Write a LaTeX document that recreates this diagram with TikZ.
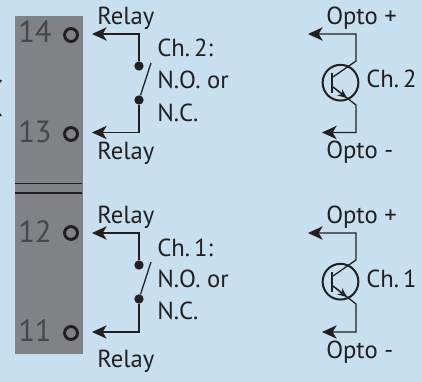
\documentclass[tikz,border=0pt]{standalone}
\usepackage{fontspec}
\setmainfont{PT Sans}
\definecolor{panelblue}{HTML}{C7DFEF}
\definecolor{railgray}{HTML}{808285}
\definecolor{inkdark}{HTML}{231F20}
\definecolor{numgray}{HTML}{47474A}
\usetikzlibrary{arrows.meta, positioning}
\tikzset{
  wire/.style={draw=inkdark, line width=0.95pt},
  tipwire/.style={wire, -{Stealth[length=11pt, width=10pt, inset=3pt]}},
  label/.style={font=\fontsize{18.5}{18.5}\selectfont, text=inkdark, anchor=base west, inner sep=0pt},
  pinno/.style={font=\fontsize{23}{23}\selectfont, text=numgray, anchor=base west, inner sep=0pt},
  pinhole/.style={circle, draw=inkdark, line width=2.2pt, minimum size=9.7pt, inner sep=0pt},
  contact/.style={circle, fill=inkdark, minimum size=7pt, inner sep=0pt},
  trancircle/.style={circle, draw=inkdark, line width=1.5pt, minimum size=26.8pt, inner sep=0pt}
}
\begin{document}
\begin{tikzpicture}[x=0.75pt, y=-0.75pt]
  \useasboundingbox (0,0) rectangle (422,382);
  \fill[panelblue] (0,0) rectangle (422,382);
  \fill[railgray] (15,16) rectangle (83,354);
  \draw[inkdark, line width=1pt] (15,183.5) -- (82,183.5);
  \draw[inkdark, line width=1pt] (15,193) -- (82,193);
  % clipped marks on the edge
  \fill[inkdark] (0,79.5) -- (2,80.5) -- (0,83) -- cycle;
  \fill[inkdark] (0,113) -- (2,116) -- (0,116) -- cycle;
  % terminals
  \node[pinno] at (18,42) {14};
  \node[pinno] at (18,142) {13};
  \node[pinno] at (18,242) {12};
  \node[pinno] at (18,341) {11};
  \node[pinhole] (t14) at (71,35) {};
  \node[pinhole] (t13) at (71,134) {};
  \node[pinhole] (t12) at (71,233) {};
  \node[pinhole] (t11) at (71,333) {};
  % relay ch 2
  \coordinate (a14) at (92,34);
  \coordinate (a13) at (92,132.5);
  \node[contact] (c2a) at (139,66) {};
  \node[contact] (c2b) at (139,100) {};
  \coordinate (s2) at (151,63);
  \draw[tipwire] (c2a) |- (a14);
  \draw[tipwire] (c2b) |- (a13);
  \draw[wire] (c2b) -- (s2);
  \node[label] at (97,25) {Relay};
  \node[label] at (97,159) {Relay};
  \node[label] at (157,56) {Ch.\,2:};
  \node[label] at (157,88) {N.O. or};
  \node[label] at (157,121) {N.C.};
  % relay ch 1
  \coordinate (a12) at (92,233);
  \coordinate (a11) at (92,332);
  \node[contact] (c1a) at (139,265) {};
  \node[contact] (c1b) at (139,299) {};
  \coordinate (s1) at (151,262);
  \draw[tipwire] (c1a) |- (a12);
  \draw[tipwire] (c1b) |- (a11);
  \draw[wire] (c1b) -- (s1);
  \node[label] at (97,223) {Relay};
  \node[label] at (97,367) {Relay};
  \node[label] at (157,256) {Ch.\,1:};
  \node[label] at (157,287) {N.O. or};
  \node[label] at (157,319) {N.C.};
  % opto ch 2
  \node[trancircle] (q2) at (340.5,82.7) {};
  \draw[inkdark, line width=2pt] (332,73) -- (332,93);
  \coordinate (o2p) at (308,34);
  \coordinate (o2m) at (322,132.5);
  \draw[tipwire] (333,77) -- (356,61) -- (356,34) -- (o2p);
  \draw[tipwire] (333,87) -- (356,105) -- (356,132.5) -- (o2m);
  \draw[wire, -{Stealth[length=7pt, width=6pt]}] (333,87) -- (347,98);
  \node[label] at (326,25) {Opto +};
  \node[label] at (326,158) {Opto -};
  \node[label] at (366,87) {Ch.\,2};
  % opto ch 1
  \node[trancircle] (q1) at (340.5,281.7) {};
  \draw[inkdark, line width=2pt] (332,272) -- (332,292);
  \coordinate (o1p) at (308,233);
  \coordinate (o1m) at (322,332);
  \draw[tipwire] (333,276) -- (356,260) -- (356,233) -- (o1p);
  \draw[tipwire] (333,286) -- (356,304) -- (356,332) -- (o1m);
  \draw[wire, -{Stealth[length=7pt, width=6pt]}] (333,286) -- (347,297);
  \node[label] at (326,223) {Opto +};
  \node[label] at (326,358) {Opto -};
  \node[label] at (366,287) {Ch.\,1};
\end{tikzpicture}
\end{document}
